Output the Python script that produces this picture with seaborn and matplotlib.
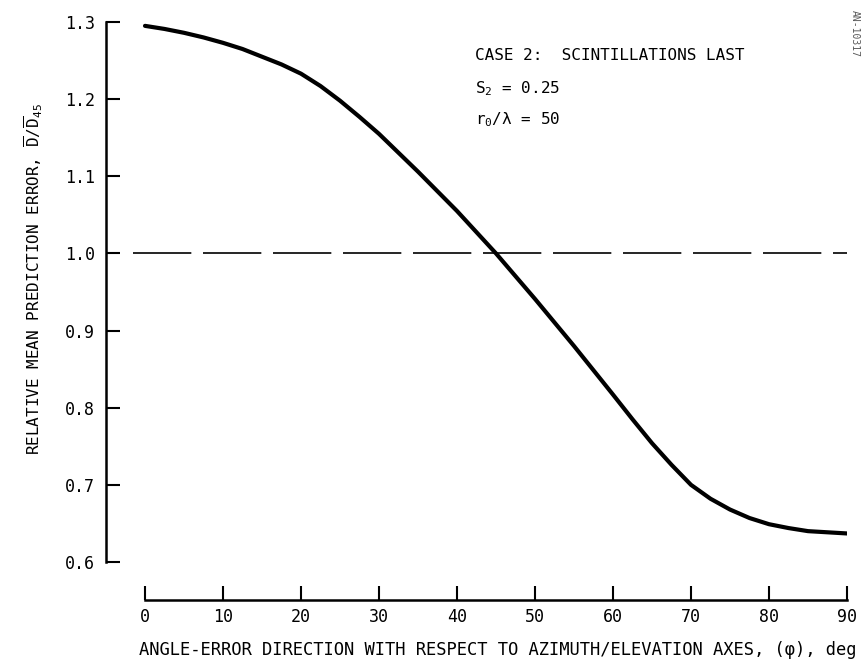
import matplotlib
matplotlib.use('Agg')
import matplotlib.pyplot as plt
import seaborn as sns

# angle-error direction (deg) vs relative mean prediction error
angle_deg = [0, 2.5, 5, 7.5, 10, 12.5, 15, 17.5, 20, 22.5, 25, 27.5, 30, 35, 40, 45,
             50, 55, 60, 62.5, 65, 67.5, 70, 72.5, 75, 77.5, 80, 82.5, 85, 90]
rel_error = [1.295, 1.291, 1.286, 1.280, 1.273, 1.265, 1.255, 1.245, 1.233, 1.217,
             1.198, 1.177, 1.155, 1.106, 1.055, 1.000, 0.941, 0.880, 0.817, 0.785,
             0.754, 0.726, 0.700, 0.682, 0.668, 0.657, 0.649, 0.644, 0.640, 0.637]
reference_level = 1.0
x_ticks = [0, 10, 20, 30, 40, 50, 60, 70, 80, 90]
y_ticks = [0.6, 0.7, 0.8, 0.9, 1.0, 1.1, 1.2, 1.3]

sns.set_style('ticks')
plt.rcParams['font.family'] = ['DejaVu Sans Mono', 'DejaVu Sans']
plt.rcParams['mathtext.fontset'] = 'custom'
plt.rcParams['mathtext.rm'] = 'DejaVu Sans Mono'
plt.rcParams['mathtext.it'] = 'DejaVu Sans Mono'
plt.rcParams['mathtext.bf'] = 'DejaVu Sans Mono'
plt.rcParams['text.color'] = 'black'
plt.rcParams['xtick.color'] = 'black'
plt.rcParams['ytick.color'] = 'black'
plt.rcParams['axes.edgecolor'] = 'black'

W, H = 861, 664
fig = plt.figure(figsize=(W / 100, H / 100), dpi=100)
# axes box in pixels: x -1.5..90 -> 133..847, y 0.6..1.3 -> 562..22
left, right, top, bottom = 133.3, 847, 22, 562
ax = fig.add_axes([left / W, 1 - bottom / H, (right - left) / W, (bottom - top) / H])

sns.lineplot(x=angle_deg, y=rel_error, ax=ax, color='black', linewidth=3.0)
ax.axhline(reference_level, color='black', linewidth=1.2, linestyle=(0, (35, 7)))

ax.set_xlim(-1.5, 90)
ax.set_ylim(0.6, 1.3)
ax.set_xticks(x_ticks)
ax.set_yticks(y_ticks)
ax.set_xticklabels([str(t) for t in x_ticks])
ax.set_yticklabels([f'{t:.1f}' for t in y_ticks])

for side in ['top', 'right']:
    ax.spines[side].set_visible(False)
# outward offsets are in points (px * 0.72)
ax.spines['left'].set_position(('outward', 27 * 0.72))
ax.spines['bottom'].set_position(('outward', 38 * 0.72))
ax.spines['bottom'].set_bounds(0, 90)
for side in ['left', 'bottom']:
    ax.spines[side].set_linewidth(1.8)

ax.tick_params(axis='both', direction='in', length=10, width=1.5, labelsize=12)
ax.tick_params(axis='y', pad=8)
ax.tick_params(axis='x', pad=6)

ax.set_xlabel('')
ax.set_ylabel('')

fig.text(34 / W, 1 - 279 / H,
         r'RELATIVE MEAN PREDICTION ERROR, $\overline{D}/\overline{D}_{45}$',
         rotation=90, ha='center', va='center', fontsize=11.5)
fig.text(498 / W, 1 - 650 / H,
         'ANGLE-ERROR DIRECTION WITH RESPECT TO AZIMUTH/ELEVATION AXES, (φ), deg',
         ha='center', va='center', fontsize=12.3)

fig.text(475 / W, 1 - 55 / H, 'CASE 2:  SCINTILLATIONS LAST',
         ha='left', va='center', fontsize=11.5)
fig.text(475 / W, 1 - 89 / H, r'S$_2$ = 0.25', ha='left', va='center', fontsize=11.5)
fig.text(475 / W, 1 - 120 / H, r'r$_0$/λ = 50', ha='left', va='center', fontsize=11.5)
fig.text(855 / W, 1 - 10 / H, 'AN-10317', rotation=-90, ha='center', va='top',
         fontsize=7, color='0.35')

fig.savefig('out.png', dpi=100, facecolor='white')
